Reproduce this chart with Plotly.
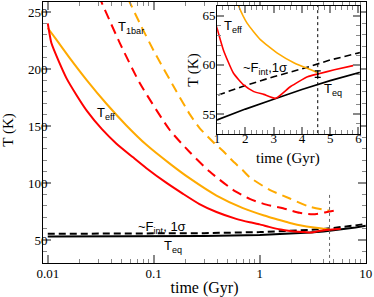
import plotly.graph_objects as go
import numpy as np

# ---- data (time in Gyr, temperature in K) ----
t_red = [0.01, 0.0108, 0.0128, 0.015, 0.0187, 0.0235, 0.0326, 0.0445, 0.0638, 0.0853, 0.13, 0.189, 0.27, 0.391, 0.6, 0.805,
         1.0, 1.225, 1.58, 1.94, 2.3, 2.65, 3.07, 3.6, 4.2, 4.56, 5.15, 5.81]
T_red = [240, 223, 206, 192, 177, 163, 147, 134.5, 122.5, 113, 100.5, 90.5, 81.5, 74.5, 68.5, 65.5,
         63.7, 61.5, 59.15, 57.96, 57.28, 57.0, 56.6, 57.8, 58.8, 59.08, 59.5, 59.93]

t_orange = [0.01, 0.0121, 0.016, 0.0232, 0.0358, 0.0552, 0.0853, 0.1416, 0.219, 0.391, 0.695, 1.1, 1.76, 2.06, 2.54, 3.13, 3.73, 4.32, 4.56]
T_orange = [236, 225.5, 210, 190.5, 169.5, 150.5, 133.5, 117, 104, 89, 78, 71.5, 66.0, 64.25, 62.55, 61.2, 60.2, 59.5, 59.2]

t_red_1bar = [0.03, 0.048, 0.074, 0.1416, 0.219, 0.337, 0.56, 0.805, 1.156, 1.66, 2.38, 3.18, 4.57, 5.69]
T_red_1bar = [265, 222.5, 187.5, 146.5, 127, 110, 94, 86, 81, 77.8, 73.8, 72.5, 75, 76.5]

t_orange_1bar = [0.057, 0.074, 0.1, 0.16, 0.22, 0.272, 0.363, 0.451, 0.56, 0.695, 0.805, 1.24, 1.9, 2.95, 4.56]
T_orange_1bar = [262, 240, 216, 182, 160, 148, 136, 128, 119, 111, 105, 94, 86.6, 79.2, 75.7]

t_eq = [0.01, 0.1, 0.3, 1, 2, 3, 4, 5, 6, 8, 10]
T_eq = [53.0, 53.2, 53.5, 54.4, 55.5, 56.5, 57.5, 58.4, 59.3, 60.9, 62.4]
T_fint = [55.4, 55.6, 56.0, 56.9, 57.9, 58.8, 59.6, 60.5, 61.3, 62.8, 64.1]

t_now = 4.56
T_now = 59.07
T_now_err = 0.33
dotted_main_T = [29, 90]

main_xticks = [0.01, 0.1, 1, 10]
main_xticktext = ["0.01", "0.1", "1", "10"]
main_yticks = [50, 100, 150, 200, 250]
inset_xticks = [1, 2, 3, 4, 5, 6]
inset_yticks = [55, 60, 65]

RED = "#FF0000"
ORANGE = "#FFAA00"
TICKC = "#888888"
SERIF = "Liberation Serif"
SANS = "Liberation Sans"

minor_log = [m * 10.0 ** e for e in range(-3, 1) for m in range(2, 10)]

fig = go.Figure()

def add_common(xa, ya, inset=False):
    w = 1.6 if inset else 2
    fig.add_trace(go.Scatter(x=t_eq, y=T_eq, mode="lines", line=dict(color="black", width=w), xaxis=xa, yaxis=ya))
    fig.add_trace(go.Scatter(x=t_eq, y=T_fint, mode="lines", line=dict(color="black", width=w, dash="7px,4px"), xaxis=xa, yaxis=ya))
    fig.add_trace(go.Scatter(x=t_orange, y=T_orange, mode="lines", line=dict(color=ORANGE, width=w, shape="spline", smoothing=0.5), xaxis=xa, yaxis=ya))
    fig.add_trace(go.Scatter(x=t_red, y=T_red, mode="lines", line=dict(color=RED, width=w, shape="spline", smoothing=0.5), xaxis=xa, yaxis=ya))

# main
fig.add_trace(go.Scatter(x=t_orange_1bar, y=T_orange_1bar, mode="lines", line=dict(color=ORANGE, width=2, dash="10px,6px", shape="spline", smoothing=0.6), xaxis="x", yaxis="y"))
fig.add_trace(go.Scatter(x=t_red_1bar, y=T_red_1bar, mode="lines", line=dict(color=RED, width=2, dash="10px,6px", shape="spline", smoothing=0.6), xaxis="x", yaxis="y"))
add_common("x", "y")
fig.add_trace(go.Scatter(x=[t_now, t_now], y=dotted_main_T, mode="lines", line=dict(color="#666666", width=1, dash="dot"), xaxis="x", yaxis="y"))

# inset
fig.add_trace(go.Scatter(x=[t_now, t_now], y=[50, 70], mode="lines", line=dict(color="black", width=1, dash="dot"), xaxis="x2", yaxis="y2"))
add_common("x2", "y2", inset=True)
fig.add_trace(go.Scatter(x=[t_now], y=[T_now], mode="markers", marker=dict(size=2, color="black"),
                         error_y=dict(type="constant", value=T_now_err, color="black", thickness=1.2, width=3),
                         xaxis="x2", yaxis="y2"))

axis_common = dict(showline=True, linecolor="black", linewidth=1, mirror="ticks", ticks="inside",
                   tickcolor=TICKC, tickwidth=1.5, showgrid=False, zeroline=False, automargin=False,
                   tickfont=dict(family=SERIF, size=13, color="black"))

fig.update_layout(
    width=374, height=297, margin=dict(l=43, r=8, t=2, b=34),
    plot_bgcolor="white", paper_bgcolor="white", showlegend=False,
    xaxis=dict(type="log", range=[-2.045, 1.003], tickvals=main_xticks, ticktext=main_xticktext, ticklen=8,
               ticklabelstandoff=-2,
               minor=dict(tickvals=minor_log, ticks="inside", ticklen=4, tickcolor=TICKC, tickwidth=1),
               title=dict(text="time (Gyr)", font=dict(family=SERIF, size=16, color="black"), standoff=2),
               **axis_common),
    yaxis=dict(range=[29.8, 258.8], tickvals=main_yticks, ticklen=8, ticklabelstandoff=-8,
               minor=dict(dtick=10, ticks="inside", ticklen=4, tickcolor=TICKC, tickwidth=1),
               **axis_common),
    xaxis2=dict(domain=[0.539, 0.981], anchor="y2", range=[1, 6.05], tickvals=inset_xticks, ticklen=7,
                ticklabelstandoff=-8,
                minor=dict(dtick=0.2, ticks="inside", ticklen=4, tickcolor=TICKC, tickwidth=1),
                **axis_common),
    yaxis2=dict(domain=[0.494, 0.9847], anchor="x2", range=[52.96, 66.0], tickvals=inset_yticks, ticklen=7,
                ticklabelstandoff=-2,
                minor=dict(dtick=1, ticks="inside", ticklen=4, tickcolor=TICKC, tickwidth=1),
                title=dict(text="T (K)", font=dict(family=SERIF, size=15, color="black"), standoff=0),
                **axis_common),
)

# axis titles placed as paper-anchored text
fig.add_annotation(x=-0.106, y=0.51, xref="paper", yref="paper", text="T (K)", textangle=-90, showarrow=False,
                   font=dict(family=SERIF, size=15, color="black"), xanchor="center", yanchor="middle")
fig.add_annotation(x=0.7585, y=0.402, xref="paper", yref="paper", text="time (Gyr)", showarrow=False,
                   font=dict(family=SERIF, size=15, color="black"), xanchor="center", yanchor="middle")

ann_font = dict(family=SANS, size=13, color="black")
labels = [
    ("x", "y", np.log10(0.0607), 236, "T<sub>1bar</sub>"),
    ("x", "y", np.log10(0.0352), 161.4, "T<sub>eff</sub>"),
    ("x", "y", np.log10(0.119), 60.8, "~F<sub>int</sub>, 1σ"),
    ("x", "y", np.log10(0.151), 44.7, "T<sub>eq</sub>"),
    ("x2", "y2", 1.565, 63.9, "T<sub>eff</sub>"),
    ("x2", "y2", 2.695, 59.6, "~F<sub>int</sub>,1σ"),
    ("x2", "y2", 5.1, 57.45, "T<sub>eq</sub>"),
]
for xr, yr, x, y, txt in labels:
    fig.add_annotation(x=x, y=y, xref=xr, yref=yr, text=txt, showarrow=False, font=ann_font,
                       xanchor="center", yanchor="middle")

fig.write_html("out.html", config={"displayModeBar": False},
               post_script="document.body.style.margin='0px';document.body.style.padding='0px';")
